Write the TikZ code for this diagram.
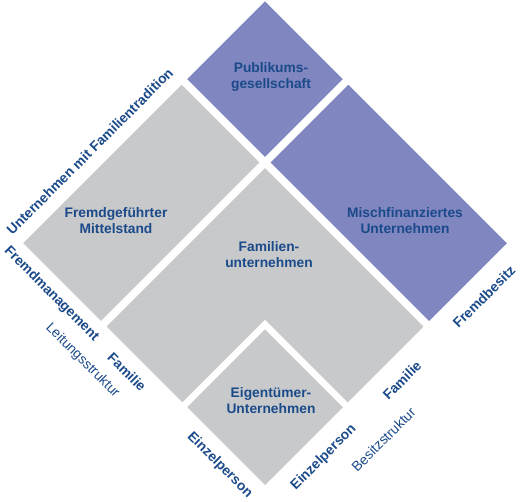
\documentclass[tikz,border=0pt]{standalone}
\usepackage{fontspec}
\setmainfont{Liberation Sans}
\definecolor{ink}{HTML}{1B4A8A}
\definecolor{pale}{HTML}{C8C9CB}
\definecolor{lilac}{HTML}{7F86C0}

\begin{document}
\begin{tikzpicture}[x=1pt,y=1pt,
 greycell/.style={fill=pale},
 bluecell/.style={fill=lilac},
 celltext/.style={align=center,text=ink,font=\bfseries\fontsize{13.8}{16}\selectfont},
 edgelbl/.style={transform shape,inner sep=0pt,text height=.72em,text depth=0pt,
 text=ink,font=\bfseries\fontsize{13.8}{16}\selectfont},
 dimlbl/.style={edgelbl,font=\fontsize{13.8}{16}\selectfont}]
 \useasboundingbox (0,0) rectangle (520,-502);
 \begin{scope}[shift={(265,-485)},rotate=45]
 % matrix cells
 \fill[greycell] (0,0) rectangle (110,110);
 \fill[greycell] (117,0) -- (224,0) -- (224,224) -- (0,224) -- (0,117) -- (117,117) -- cycle;
 \fill[greycell] (0,232) rectangle (224,342);
 \fill[bluecell] (232,232) rectangle (342,342);
 \fill[bluecell] (232,0) rectangle (342,224);
 % Leitungsstruktur axis
 \node[edgelbl] (tradition) at (112,358.5) {Unternehmen mit Familientradition};
 \node[edgelbl,rotate=-90] (leadext) at (-16,286) {Fremdmanagement};
 \node[edgelbl,rotate=-90] (leadfam) at (-19,177.5) {Familie};
 \node[edgelbl,rotate=-90] (leadone) at (-18,46) {Einzelperson};
 \node[dimlbl,rotate=-90] (leadaxis) at (-41,217) {Leitungsstruktur};
 % Besitzstruktur axis
 \node[edgelbl] (ownone) at (61,-22) {Einzelperson};
 \node[edgelbl] (ownfam) at (171,-24) {Familie};
 \node[edgelbl] (ownext) at (288,-23) {Fremdbesitz};
 \node[dimlbl] (ownaxis) at (116,-53) {Besitzstruktur};
 \end{scope}
 \node[celltext] (public) at (271,-77) {Publikums-\\gesellschaft};
 \node[celltext] (mittel) at (116,-221) {Fremdgeführter\\Mittelstand};
 \node[celltext] (misch) at (405,-221) {Mischfinanziertes\\Unternehmen};
 \node[celltext] (family) at (269,-255) {Familien-\\unternehmen};
 \node[celltext] (owner) at (271,-401) {Eigentümer-\\Unternehmen};
\end{tikzpicture}
\end{document}
